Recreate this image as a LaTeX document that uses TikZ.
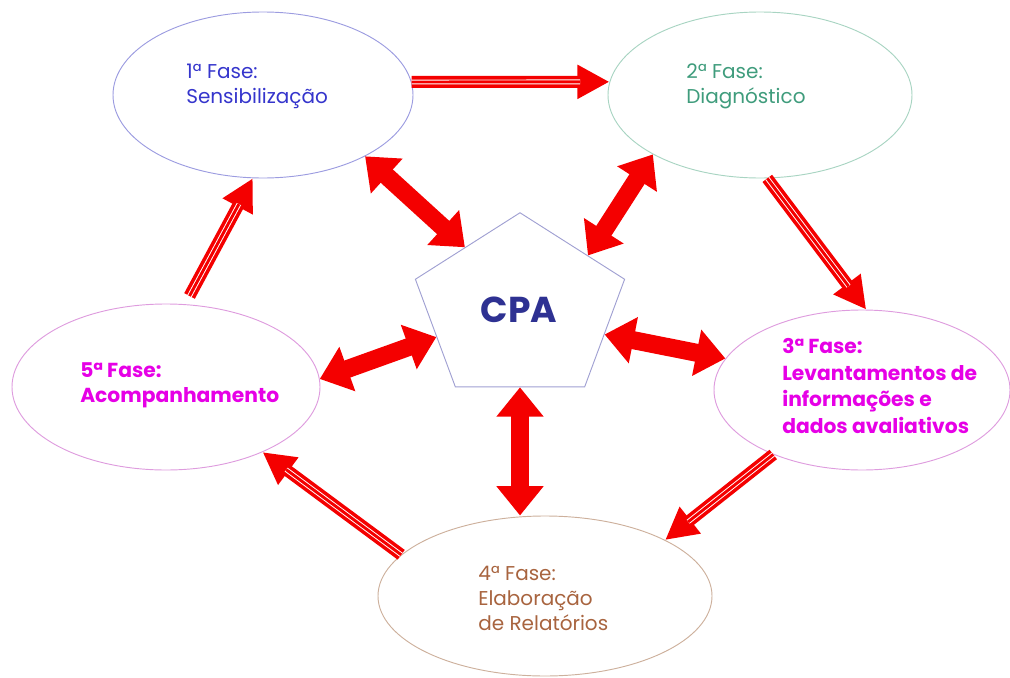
\documentclass[tikz,border=0pt]{standalone}
\usepackage{fontspec}
\setmainfont{Poppins}
\usetikzlibrary{positioning}
\usetikzlibrary{arrows.meta}
\usetikzlibrary{shapes.geometric}

\definecolor{vermelho}{HTML}{F40000}
\definecolor{azul}{HTML}{3535CC}
\definecolor{verde}{HTML}{3F9C7C}
\definecolor{magenta}{HTML}{E600E6}
\definecolor{marrom}{HTML}{A8643F}
\definecolor{azulcpa}{HTML}{2E3192}
\definecolor{borda1}{HTML}{9C9CE0}
\definecolor{borda2}{HTML}{A8D4C2}
\definecolor{borda3}{HTML}{DE9CDE}
\definecolor{borda4}{HTML}{CDB09C}
\definecolor{bordacpa}{HTML}{A0A0D2}

\begin{document}
\begin{tikzpicture}[x=0.75pt, y=-0.75pt,
    fase/.style={draw, ellipse, line width=0.7pt, inner sep=0pt},
    rotulo/.style={anchor=north west, inner sep=0pt, align=left,
        font=\fontsize{15}{18.75}\selectfont},
    seta/.style={vermelho, line width=13.5pt,
        {Triangle[length=22pt,width=34pt]}-{Triangle[length=22pt,width=34pt]}},
    fluxo/.style={vermelho, line width=9pt, -{Triangle[length=24pt,width=24pt]},
        postaction={draw, -, white, line width=0.7pt, double=vermelho,
            double distance=2.2pt, shorten >=22pt}}
]
\useasboundingbox (0,0) rectangle (1010,678);

% fases
\node[fase, draw=borda1, minimum width=225pt, minimum height=124.5pt] (f1) at (263,95) {};
\node[fase, draw=borda2, minimum width=228pt, minimum height=124.5pt] (f2) at (760,95) {};
\node[fase, draw=borda3, minimum width=222pt, minimum height=120pt] (f3) at (862,390) {};
\node[fase, draw=borda4, minimum width=250.5pt, minimum height=120pt] (f4) at (545,596) {};
\node[fase, draw=borda3, minimum width=231pt, minimum height=124.5pt] (f5) at (166,387) {};

\node[rotulo, text=azul] (t1) at (186,64) {1ª Fase:\\Sensibilização};
\node[rotulo, text=verde] (t2) at (686,64) {2ª Fase:\\Diagnóstico};
\node[rotulo, text=magenta, font=\fontsize{15.2}{20}\selectfont\bfseries] (t3) at (782,338) {3ª Fase:\\Levantamentos de\\informações e\\dados avaliativos};
\node[rotulo, text=marrom] (t4) at (478,566) {4ª Fase:\\Elaboração\\de Relatórios};
\node[rotulo, text=magenta, font=\fontsize{15.2}{18.75}\selectfont\bfseries] (t5) at (80,362) {5ª Fase:\\Acompanhamento};

% centro
\coordinate (centro) at (520,309);
\node[regular polygon, regular polygon sides=5, draw=bordacpa, line width=0.7pt,
    minimum size=165pt, inner sep=0pt, yscale=0.875, transform shape] (cpa) at (centro) {};
\node[text=azulcpa, font=\fontsize{27}{30}\selectfont\bfseries] (cpatxt) at (519,310) {CPA};

% setas duplas
\draw[seta] (f1.329) -- (cpa.128);
\draw[seta] (f2.209) -- (cpa.42);
\draw[seta] (cpa.341) -- (f3.167);
\draw[seta] (cpa.201) -- (f5.3);
\draw[seta] (cpa.south) -- (cpa.south |- f4.north);

% ciclo
\draw[fluxo] (f1.5) -- (f2.175);
\draw[fluxo] (f2.275) -- (f3.87);
\draw[fluxo] (f3.216) -- (f4.25);
\draw[fluxo] (f4.164) -- (f5.326);
\draw[fluxo, shorten <=7pt] (f5.77) -- (f1.263);
\end{tikzpicture}
\end{document}
